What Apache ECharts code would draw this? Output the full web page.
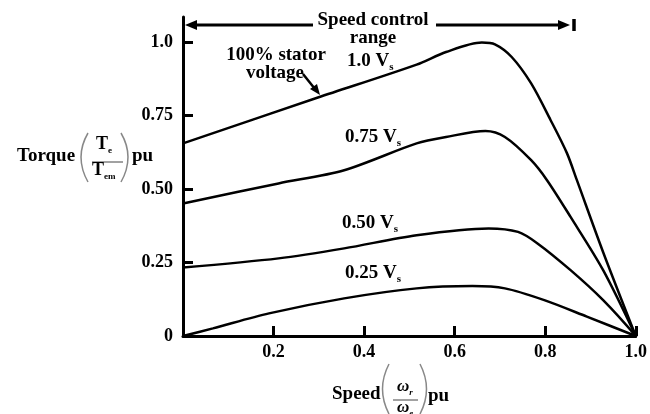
<!DOCTYPE html>
<html>
<head>
<meta charset="utf-8">
<script src="https://cdn.jsdelivr.net/npm/echarts@6/dist/echarts.min.js"></script>
<style>
html,body{margin:0;padding:0;background:#fff;}
#chart{width:650px;height:414px;}
</style>
</head>
<body>
<div id="chart"></div>
<script>
// ---- data ----
var xTickValues = [0.2, 0.4, 0.6, 0.8, 1.0];
var xTickLabels = ['0.2', '0.4', '0.6', '0.8', '1.0'];
var yTickValues = [0, 0.25, 0.5, 0.75, 1.0];
var yTickLabels = ['0', '0.25', '0.50', '0.75', '1.0'];

var speed100 = [0, 0.298, 0.516, 0.581, 0.660, 0.689, 0.726, 0.769, 0.812, 0.848, 0.870, 0.928, 1.0];
var torque100 = [0.655, 0.811, 0.923, 0.966, 0.998, 0.992, 0.949, 0.859, 0.734, 0.622, 0.530, 0.285, 0];

var speed75 = [0, 0.211, 0.356, 0.516, 0.581, 0.668, 0.711, 0.769, 0.804, 0.856, 0.928, 1.0];
var torque75 = [0.451, 0.519, 0.564, 0.655, 0.677, 0.697, 0.677, 0.598, 0.530, 0.405, 0.224, 0];

var speed50 = [0, 0.211, 0.356, 0.516, 0.675, 0.740, 0.783, 0.856, 0.928, 1.0];
var torque50 = [0.233, 0.264, 0.298, 0.343, 0.366, 0.354, 0.315, 0.224, 0.122, 0];

var speed25 = [0, 0.066, 0.190, 0.356, 0.516, 0.639, 0.711, 0.798, 0.892, 1.0];
var torque25 = [0, 0.026, 0.077, 0.128, 0.162, 0.170, 0.162, 0.122, 0.066, 0];

var curveNames = ['1.0 Vs', '0.75 Vs', '0.50 Vs', '0.25 Vs'];

function zip(xs, ys) { return xs.map(function (x, i) { return [x, ys[i]]; }); }

var FONT = '"Liberation Serif", "Times New Roman", serif';
var chart = echarts.init(document.getElementById('chart'), null, {renderer: 'canvas'});

function curve(name, xs, ys) {
  return {
    name: name, type: 'line', data: zip(xs, ys),
    smooth: 0.3, symbol: 'none',
    lineStyle: {color: '#000', width: 2.5}
  };
}

function subText(left, cy, main, sub, size, subSize, italic) {
  return {
    type: 'text', left: left, top: cy - 11,
    style: {
      text: '{a|' + main + '}{s|' + sub + '}',
      rich: {
        a: {fontFamily: FONT, fontWeight: 'bold', fontStyle: italic ? 'italic' : 'normal', fontSize: size, lineHeight: 22, fill: '#000', verticalAlign: 'middle'},
        s: {fontFamily: FONT, fontWeight: 'bold', fontStyle: italic ? 'italic' : 'normal', fontSize: subSize, lineHeight: 10, fill: '#000', verticalAlign: 'bottom'}
      }
    }
  };
}

function plain(x, cy, txt, size, align) {
  return {
    type: 'text', x: x, y: cy,
    style: {text: txt, fontFamily: FONT, fontWeight: 'bold', fontSize: size, fill: '#000',
            align: align || 'left', verticalAlign: 'middle'}
  };
}

function seg(x1, y1, x2, y2, w, c) {
  return {type: 'line', shape: {x1: x1, y1: y1, x2: x2, y2: y2}, style: {stroke: c || '#000', lineWidth: w}};
}
function paren(x1, y1, cx, cy, x2, y2) {
  return {type: 'bezierCurve', shape: {x1: x1, y1: y1, cpx1: cx, cpy1: cy, x2: x2, y2: y2},
          style: {stroke: '#888', lineWidth: 1.5, fill: null}};
}

var option = {
  backgroundColor: '#fff',
  animation: false,
  grid: {left: 183, right: 7, top: 17, bottom: 78, containLabel: false},
  xAxis: {
    type: 'value', min: 0, max: 1,
    axisLine: {show: true, lineStyle: {color: '#000', width: 3}},
    axisTick: {show: true, inside: true, length: 10, lineStyle: {color: '#000', width: 3}, customValues: xTickValues},
    axisLabel: {show: true, margin: 7, customValues: xTickValues,
      formatter: function (v) { var i = xTickValues.indexOf(v); return i >= 0 ? xTickLabels[i] : ''; },
      fontFamily: FONT, fontWeight: 'bold', fontSize: 18, color: '#000'},
    splitLine: {show: false}
  },
  yAxis: {
    type: 'value', min: 0, max: 1.085,
    axisLine: {show: true, lineStyle: {color: '#000', width: 3}},
    axisTick: {show: true, inside: true, length: 10, lineStyle: {color: '#000', width: 3}, customValues: yTickValues},
    axisLabel: {show: true, margin: 10, customValues: yTickValues,
      formatter: function (v) { var i = yTickValues.indexOf(v); return i >= 0 ? yTickLabels[i] : ''; },
      fontFamily: FONT, fontWeight: 'bold', fontSize: 18, color: '#000'},
    splitLine: {show: false}
  },
  series: [
    curve(curveNames[0], speed100, torque100),
    curve(curveNames[1], speed75, torque75),
    curve(curveNames[2], speed50, torque50),
    curve(curveNames[3], speed25, torque25)
  ],
  graphic: [
    // speed control range arrow
    seg(192, 25, 313, 25, 3),
    {type: 'polygon', shape: {points: [[185, 25], [197, 20], [197, 30]]}, style: {fill: '#000'}},
    plain(373, 20, 'Speed control', 19, 'center'),
    plain(373, 38, 'range', 19, 'center'),
    seg(436, 25, 562, 25, 3),
    {type: 'polygon', shape: {points: [[570, 25], [558, 20], [558, 30]]}, style: {fill: '#000'}},
    seg(574, 19, 574, 31, 3.5),
    // 100% stator voltage note
    plain(276, 55, '100% stator', 19, 'center'),
    plain(275, 73, 'voltage', 19, 'center'),
    seg(303, 74, 315, 89, 2.5),
    {type: 'polygon', shape: {points: [[320, 95], [310, 89], [317, 84]]}, style: {fill: '#000'}},
    // curve labels
    subText(347, 63, '1.0 V', 's', 19, 11),
    subText(345, 139, '0.75 V', 's', 19, 11),
    subText(342, 225, '0.50 V', 's', 19, 11),
    subText(345, 275, '0.25 V', 's', 19, 11),
    // y axis title
    plain(17, 156, 'Torque', 19, 'left'),
    paren(88, 133, 74, 157, 88, 182),
    paren(121, 133, 135, 157, 121, 182),
    subText(96, 146, 'T', 'e', 18, 9),
    seg(92, 162, 123, 162, 1, '#444'),
    subText(92, 172, 'T', 'em', 18, 9),
    plain(132, 156, 'pu', 19, 'left'),
    // x axis title
    plain(332, 394, 'Speed', 19, 'left'),
    paren(389, 364, 376, 389, 389, 414),
    paren(420, 364, 433, 389, 420, 414),
    subText(397, 389, 'ω', 'r', 17, 9, true),
    seg(393, 400, 418, 400, 1, '#444'),
    subText(397, 410, 'ω', 'e', 17, 9, true),
    plain(428, 396, 'pu', 19, 'left')
  ]
};
chart.setOption(option);
</script>
</body>
</html>
